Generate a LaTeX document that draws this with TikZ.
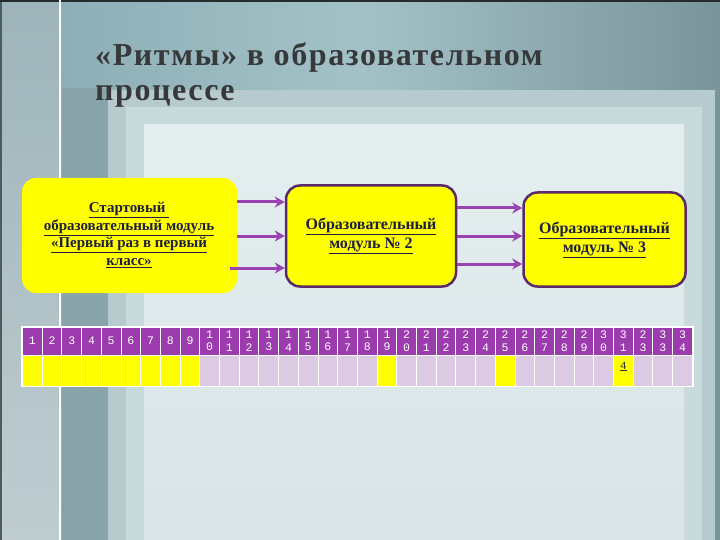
\documentclass[tikz,border=0pt]{standalone}
\usepackage{fontspec}
\setmainfont{Liberation Serif}
\newfontfamily\monof{Liberation Mono}
\usetikzlibrary{arrows.meta,calc}
\definecolor{topL}{HTML}{88ABB2}
\definecolor{topM}{HTML}{A3C2C7}
\definecolor{topR}{HTML}{7A949B}
\definecolor{leftT}{HTML}{9DB4BA}
\definecolor{leftS}{HTML}{BFCDD1}
\definecolor{darkB}{HTML}{88A3AA}
\definecolor{band1}{HTML}{B7CACD}
\definecolor{band2}{HTML}{C9DADC}
\definecolor{band3}{HTML}{E3EFEF}
\definecolor{band3b}{HTML}{D8E4E6}
\definecolor{titlec}{HTML}{36383A}
\definecolor{boxtext}{HTML}{1E1E40}
\definecolor{boxline}{HTML}{5A2A6A}
\definecolor{arrowc}{HTML}{9A42B2}
\definecolor{hdr}{HTML}{9B3BAD}
\definecolor{lav}{HTML}{DCC9E3}
\definecolor{yel}{HTML}{FFFF00}
\tikzset{
  titlestyle/.style={anchor=base west, inner sep=0pt, text=titlec, font=\fontsize{32}{38}\selectfont\bfseries},
  modbox/.style={fill=yel, rounded corners=14pt, inner sep=0pt, align=center,
    font=\fontsize{16}{19}\selectfont\bfseries, text=boxtext},
  modboxb/.style={modbox, draw=boxline, line width=2.5pt},
  arr/.style={draw=arrowc, line width=3pt, -{Stealth[length=10pt,width=11pt]}},
  hcell/.style={fill=hdr, draw=white, line width=1pt, minimum width=19.7pt, minimum height=28pt,
    inner sep=0pt, text=white, align=center, font=\monof\fontsize{11.5}{12.5}\selectfont},
  bcell/.style={draw=white, line width=1pt, minimum width=19.7pt, minimum height=31pt,
    inner sep=0pt},
}
\begin{document}
\begin{tikzpicture}[x=1pt,y=-1pt]
\useasboundingbox (0,0) rectangle (720,540);
% background
\shade[left color=topL, right color=topR, middle color=topM] (0,0) rectangle (720,540);
\shade[top color=leftT, bottom color=leftS] (0,0) rectangle (59,540);
\fill[black!50!leftT] (0,0) rectangle (2,540);
\fill[darkB] (62,88) rectangle (108,540);
\fill[band1] (108,90) rectangle (715,540);
\fill[band2] (126,107) rectangle (702,540);
\shade[top color=band3, bottom color=band3b] (144,125) rectangle (684,540);
\fill[black!70!topR] (0,0) rectangle (720,2);
\fill[white] (58.5,0) rectangle (60.5,540);
% title
\node[titlestyle] (t1) at (95,66) {\addfontfeatures{LetterSpace=5}«Ритмы» в образовательном};
\node[titlestyle] (t2) at (95,101) {\addfontfeatures{LetterSpace=5}процессе};
% boxes
\node[modbox, minimum width=215pt, minimum height=115pt] (b1) at (129.5,235.5) {};
\node[align=center, text=boxtext, font=\fontsize{15}{17.5}\selectfont\bfseries] (b1t) at (129,235)
  {\underline{Стартовый\ }\\\underline{образовательный модуль}\\\underline{«Первый раз в первый}\\\underline{класс»}};
\node[modboxb, minimum width=170pt, minimum height=101pt] (b2) at (371,236) {\underline{Образовательный}\\\underline{модуль № 2}};
\node[modboxb, minimum width=162pt, minimum height=94pt] (b3) at (604.5,239.5) {\underline{Образовательный}\\\underline{модуль № 3}};
% arrows
\draw[arr] ($(b1.east)+(0,-33.5)$) -- (b2.west |- 0,202);
\draw[arr] ($(b1.east)+(0,0.5)$) -- (b2.west |- 0,236);
\draw[arr] ($(b1.east)+(-7,32.5)$) -- (b2.west |- 0,268);
\draw[arr] ($(b2.east)+(0,-28)$) -- (b3.west |- 0,208);
\draw[arr] ($(b2.east)+(0,0)$) -- (b3.west |- 0,236);
\draw[arr] ($(b2.east)+(0,28)$) -- (b3.west |- 0,264);
% table
\foreach \i in {1,...,34}{
  \pgfmathsetmacro\xx{22.5+(\i-0.5)*19.7}
  \pgfmathtruncatemacro\ta{\i/10}
  \pgfmathtruncatemacro\tb{mod(\i,10)}
  \ifnum\i<10
    \node[hcell] (h\i) at (\xx,341) {\i};
  \else\ifnum\i=32
    \node[hcell] (h\i) at (\xx,341) {2\\3};
  \else
    \node[hcell] (h\i) at (\xx,341) {\ta\\\tb};
  \fi\fi
  \pgfmathtruncatemacro\isy{(\i<10)||(\i==19)||(\i==25)||(\i==31)}
  \ifnum\isy=1
    \node[bcell, fill=yel] (c\i) at (\xx,370.5) {};
  \else
    \node[bcell, fill=lav] (c\i) at (\xx,370.5) {};
  \fi
}
\node[font=\monof\fontsize{11}{12}\selectfont, text=black!80, inner sep=0pt] (n4) at ($(c31.center)+(0,-4)$) {\underline{4}};
\draw[white, line width=1.5pt] (h1.north west) rectangle (c34.south east);
\end{tikzpicture}
\end{document}
